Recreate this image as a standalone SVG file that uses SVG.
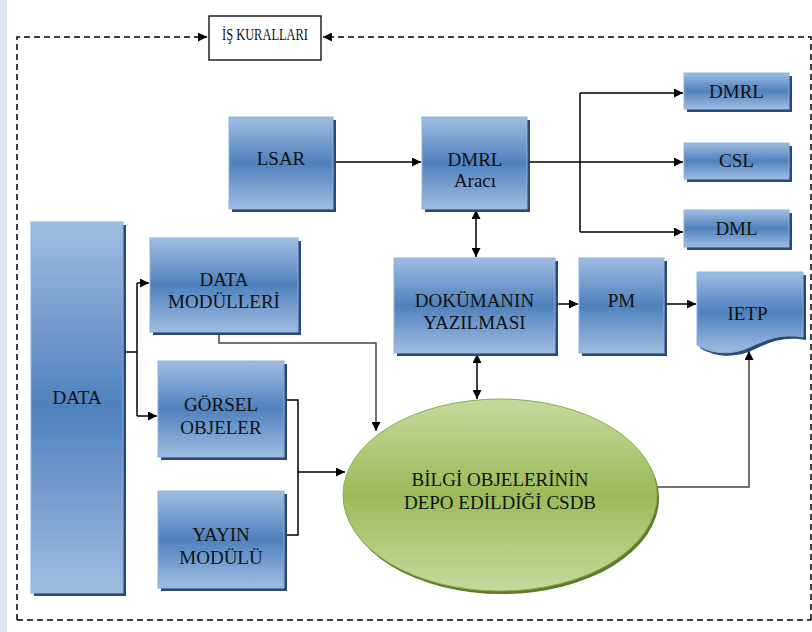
<svg xmlns="http://www.w3.org/2000/svg" width="812" height="632" viewBox="0 0 812 632" font-family="Liberation Serif, Times New Roman, serif">
<defs>
<linearGradient id="gb" x1="0" y1="0" x2="0" y2="1">
<stop offset="0" stop-color="#9fbde2"/>
<stop offset="0.5" stop-color="#4f81bd"/>
<stop offset="1" stop-color="#9fbde2"/>
</linearGradient>
<linearGradient id="gg" x1="0" y1="0" x2="0" y2="1">
<stop offset="0" stop-color="#c6d99e"/>
<stop offset="0.5" stop-color="#9bbb59"/>
<stop offset="1" stop-color="#c6d99e"/>
</linearGradient>
<marker id="ah" viewBox="0 0 10 10" refX="10" refY="5" markerWidth="9" markerHeight="9" markerUnits="userSpaceOnUse" orient="auto-start-reverse">
<path d="M0,0 L10,5 L0,10 Z" fill="#000"/>
</marker>
</defs>
<style>
.box{fill:url(#gb);stroke:#8fb0da;stroke-width:1}
.sh{fill:#2a4a75}
.t{font-size:19px;fill:#111;text-anchor:middle}
.ln{fill:none;stroke:#000;stroke-width:1.5}
.lg{fill:none;stroke:#444;stroke-width:1.5}
.dash{fill:none;stroke:#000;stroke-width:1.5;stroke-dasharray:6 4}
</style>
<rect x="0" y="0" width="812" height="632" fill="#fff"/>
<rect x="0" y="0" width="7" height="632" fill="#dbe5f1"/>

<g id="connectors">
<path class="dash" d="M17,620 V37 H207" marker-end="url(#ah)"/>
<path class="dash" d="M811,620 V37 H323" marker-end="url(#ah)"/>
<path class="dash" d="M17,620 H811"/>
<path class="ln" d="M333,162 H421" marker-end="url(#ah)"/>
<path class="ln" d="M527,162 H580"/>
<path class="ln" d="M580,93 V232"/>
<path class="ln" d="M580,93 H683" marker-end="url(#ah)"/>
<path class="ln" d="M580,162 H683" marker-end="url(#ah)"/>
<path class="ln" d="M580,232 H683" marker-end="url(#ah)"/>
<path class="ln" d="M476,210 V257" marker-start="url(#ah)" marker-end="url(#ah)"/>
<path class="ln" d="M477,354 V399" marker-start="url(#ah)" marker-end="url(#ah)"/>
<path class="ln" d="M555,304 H578" marker-end="url(#ah)"/>
<path class="ln" d="M664,304 H696" marker-end="url(#ah)"/>
<path class="ln" d="M123,352 H137"/>
<path class="ln" d="M137,283 V416"/>
<path class="ln" d="M137,283 H149" marker-end="url(#ah)"/>
<path class="ln" d="M137,416 H157" marker-end="url(#ah)"/>
<path class="lg" d="M219,333 V343 H376 V431" marker-end="url(#ah)"/>
<path class="ln" d="M284,400 H298 V535 H284"/>
<path class="ln" d="M298,472 H345" marker-end="url(#ah)"/>
<path class="lg" d="M657,487 H749 V351" marker-end="url(#ah)"/>
</g>

<g id="is-kurallari">
<rect x="209" y="16" width="112" height="44" fill="#fff" stroke="#000" stroke-width="1.3"/>
<text class="t" x="265" y="40" style="font-size:17px" textLength="86" lengthAdjust="spacingAndGlyphs">İŞ KURALLARI</text>
</g>

<g id="lsar">
<rect class="sh" x="232" y="120" width="104" height="92"/>
<rect class="box" x="229" y="117" width="104" height="92"/>
<text class="t" x="281" y="165">LSAR</text>
</g>

<g id="dmrl-araci">
<rect class="sh" x="425" y="120" width="105" height="92"/>
<rect class="box" x="422" y="117" width="105" height="92"/>
<text class="t" x="475" y="165.5">DMRL</text>
<text class="t" x="475" y="187">Aracı</text>
</g>

<g id="dmrl">
<rect class="sh" x="687" y="76" width="105" height="36"/>
<rect class="box" x="684" y="73" width="105" height="36"/>
<text class="t" x="736.5" y="97.5">DMRL</text>
</g>

<g id="csl">
<rect class="sh" x="687" y="146" width="105" height="36"/>
<rect class="box" x="684" y="143" width="105" height="36"/>
<text class="t" x="736.5" y="167">CSL</text>
</g>

<g id="dml">
<rect class="sh" x="687" y="213" width="105" height="37"/>
<rect class="box" x="684" y="210" width="105" height="37"/>
<text class="t" x="736.5" y="235">DML</text>
</g>

<g id="data">
<rect class="sh" x="34" y="225" width="92" height="371"/>
<rect class="box" x="31" y="222" width="92" height="371"/>
<text class="t" x="77" y="404">DATA</text>
</g>

<g id="data-modulleri">
<rect class="sh" x="153" y="241" width="148" height="94"/>
<rect class="box" x="150" y="238" width="148" height="94"/>
<text class="t" x="224" y="286">DATA</text>
<text class="t" x="224" y="308">MODÜLLERİ</text>
</g>

<g id="gorsel-objeler">
<rect class="sh" x="161" y="364" width="126" height="96"/>
<rect class="box" x="158" y="361" width="126" height="96"/>
<text class="t" x="221" y="411">GÖRSEL</text>
<text class="t" x="221" y="434">OBJELER</text>
</g>

<g id="yayin-modulu">
<rect class="sh" x="161" y="494" width="126" height="97"/>
<rect class="box" x="158" y="491" width="126" height="97"/>
<text class="t" x="221" y="541">YAYIN</text>
<text class="t" x="221" y="563.5">MODÜLÜ</text>
</g>

<g id="dokumanin-yazilmasi">
<rect class="sh" x="397" y="261" width="161" height="95"/>
<rect class="box" x="394" y="258" width="161" height="95"/>
<text class="t" x="474.5" y="306.5">DOKÜMANIN</text>
<text class="t" x="474.5" y="329">YAZILMASI</text>
</g>

<g id="pm">
<rect class="sh" x="582" y="261" width="85" height="95"/>
<rect class="box" x="579" y="258" width="85" height="95"/>
<text class="t" x="621.5" y="306.5">PM</text>
</g>

<g id="ietp">
<path d="M700,275 H806 V340 C783,336 768,343 753,350 C738,357 718,359 700,348 Z" fill="#2a4a75"/>
<path d="M697,272 H803 V337 C780,333 765,340 750,347 C735,354 715,356 697,345 Z" fill="url(#gb)" stroke="#8fb0da" stroke-width="1"/>
<text class="t" x="747.5" y="320">IETP</text>
</g>

<g id="csdb">
<ellipse cx="502" cy="498" rx="157" ry="96" fill="#5f7a2c"/>
<ellipse cx="500" cy="495" rx="157" ry="96" fill="url(#gg)" stroke="#8cad4e" stroke-width="1"/>
<text class="t" x="500" y="486">BİLGİ OBJELERİNİN</text>
<text class="t" x="500" y="509">DEPO EDİLDİĞİ CSDB</text>
</g>
</svg>
